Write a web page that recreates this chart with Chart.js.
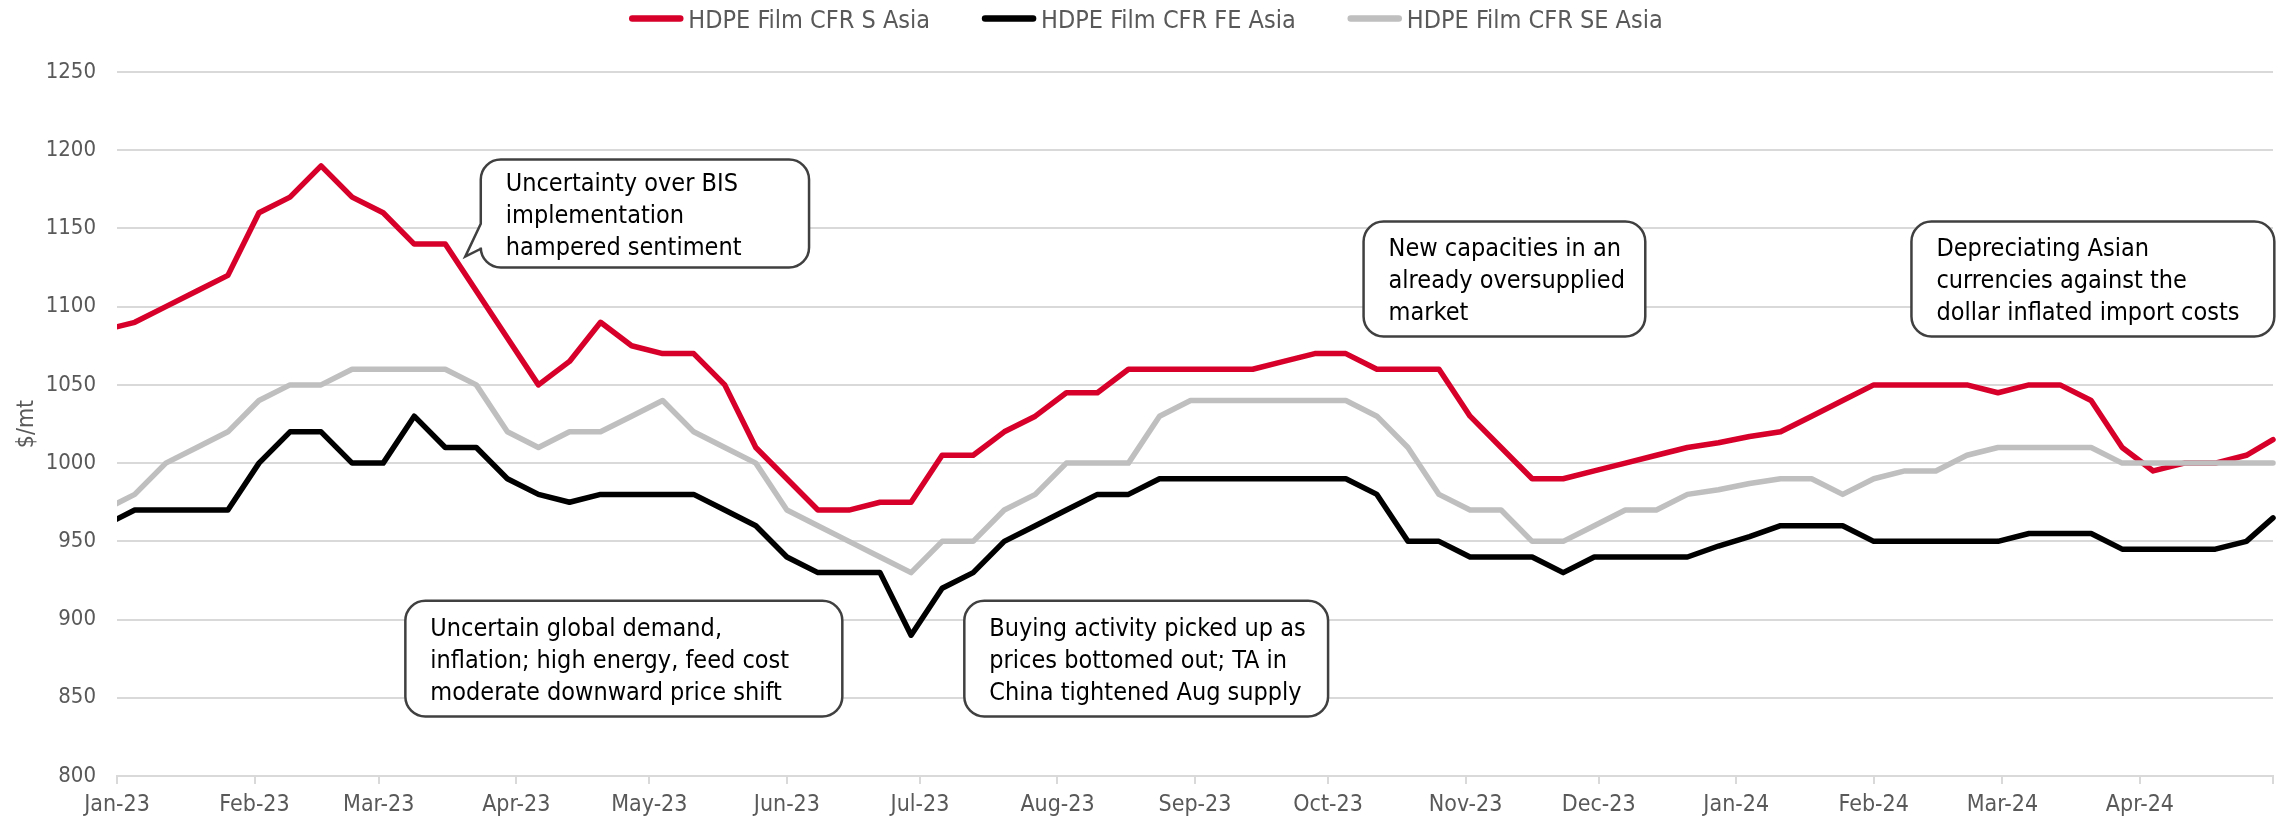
<!DOCTYPE html>
<html lang="en">
<head>
<meta charset="UTF-8">
<title>HDPE Film CFR Asia</title>
<script src="https://cdn.jsdelivr.net/npm/chart.js@4.4.1/dist/chart.umd.min.js"></script>
<style>
  html, body { margin: 0; padding: 0; background: #fff; }
</style>
</head>
<body>
<canvas id="chart" width="2282" height="818"></canvas>
<script>
// weekly assessments (first one sits just before the axis start and is clipped)
const weekDates = [
  '2022-12-29',
  '2023-01-05', '2023-01-12', '2023-01-19', '2023-01-26',
  '2023-02-02', '2023-02-09', '2023-02-16', '2023-02-23',
  '2023-03-02', '2023-03-09', '2023-03-16', '2023-03-23', '2023-03-30',
  '2023-04-06', '2023-04-13', '2023-04-20', '2023-04-27',
  '2023-05-04', '2023-05-11', '2023-05-18', '2023-05-25',
  '2023-06-01', '2023-06-08', '2023-06-15', '2023-06-22', '2023-06-29',
  '2023-07-06', '2023-07-13', '2023-07-20', '2023-07-27',
  '2023-08-03', '2023-08-10', '2023-08-17', '2023-08-24', '2023-08-31',
  '2023-09-07', '2023-09-14', '2023-09-21', '2023-09-28',
  '2023-10-05', '2023-10-12', '2023-10-19', '2023-10-26',
  '2023-11-02', '2023-11-09', '2023-11-16', '2023-11-23', '2023-11-30',
  '2023-12-07', '2023-12-14', '2023-12-21', '2023-12-28',
  '2024-01-04', '2024-01-11', '2024-01-18', '2024-01-25',
  '2024-02-01', '2024-02-08', '2024-02-15', '2024-02-22', '2024-02-29',
  '2024-03-07', '2024-03-14', '2024-03-21', '2024-03-28',
  '2024-04-04', '2024-04-11', '2024-04-18', '2024-04-25',
  '2024-05-01'
];

const sAsia = [1085,
  1090, 1100, 1110, 1120, 1160, 1170, 1190, 1170, 1160, 1140,
  1140, 1110, 1080, 1050, 1065, 1090, 1075, 1070, 1070, 1050,
  1010, 990, 970, 970, 975, 975, 1005, 1005, 1020, 1030,
  1045, 1045, 1060, 1060, 1060, 1060, 1060, 1065, 1070, 1070,
  1060, 1060, 1060, 1030, 1010, 990, 990, 995, 1000, 1005,
  1010, 1013, 1017, 1020, 1030, 1040, 1050, 1050, 1050, 1050,
  1045, 1050, 1050, 1040, 1010, 995, 1000, 1000, 1005,
  1015];

const feAsia = [960,
  970, 970, 970, 970, 1000, 1020, 1020, 1000, 1000, 1030,
  1010, 1010, 990, 980, 975, 980, 980, 980, 980, 970,
  960, 940, 930, 930, 930, 890, 920, 930, 950, 960,
  970, 980, 980, 990, 990, 990, 990, 990, 990, 990,
  980, 950, 950, 940, 940, 940, 930, 940, 940, 940,
  940, 947, 953, 960, 960, 960, 950, 950, 950, 950,
  950, 955, 955, 955, 945, 945, 945, 945, 950,
  965];

const seAsia = [970,
  980, 1000, 1010, 1020, 1040, 1050, 1050, 1060, 1060, 1060,
  1060, 1050, 1020, 1010, 1020, 1020, 1030, 1040, 1020, 1010,
  1000, 970, 960, 950, 940, 930, 950, 950, 970, 980,
  1000, 1000, 1000, 1030, 1040, 1040, 1040, 1040, 1040, 1040,
  1030, 1010, 980, 970, 970, 950, 950, 960, 970, 970,
  980, 983, 987, 990, 990, 980, 990, 995, 995, 1005,
  1010, 1010, 1010, 1010, 1000, 1000, 1000, 1000, 1000,
  1000];

const seriesNames = ['HDPE Film CFR S Asia', 'HDPE Film CFR FE Asia', 'HDPE Film CFR SE Asia'];
const seriesColors = ['#D6002A', '#000000', '#BFBFBF'];

const monthStarts = ['2023-01-01', '2023-02-01', '2023-03-01', '2023-04-01', '2023-05-01', '2023-06-01',
  '2023-07-01', '2023-08-01', '2023-09-01', '2023-10-01', '2023-11-01', '2023-12-01',
  '2024-01-01', '2024-02-01', '2024-03-01', '2024-04-01', '2024-05-01'];
const monthLabels = ['Jan-23', 'Feb-23', 'Mar-23', 'Apr-23', 'May-23', 'Jun-23',
  'Jul-23', 'Aug-23', 'Sep-23', 'Oct-23', 'Nov-23', 'Dec-23',
  'Jan-24', 'Feb-24', 'Mar-24', 'Apr-24', ''];

// callouts, placed in axis units (x = days since 1 Jan 2023, y = $/mt)
const notes = [
  { lines: ['Uncertainty over BIS', 'implementation', 'hampered sentiment'],
    x0: 82, x1: 156, top: 1194, bottom: 1125, tip: { x: 78.5, y: 1132, from: 1153, to: 1137 } },
  { lines: ['New capacities in an', 'already oversupplied', 'market'],
    x0: 281, x1: 344.5, top: 1154.5, bottom: 1081 },
  { lines: ['Depreciating Asian', 'currencies against the', 'dollar inflated import costs'],
    x0: 404.5, x1: 486.3, top: 1154.5, bottom: 1081 },
  { lines: ['Uncertain global demand,', 'inflation; high energy, feed cost', 'moderate downward price shift'],
    x0: 65, x1: 163.5, top: 912, bottom: 838 },
  { lines: ['Buying activity picked up as', 'prices bottomed out; TA in', 'China tightened Aug supply'],
    x0: 191, x1: 273, top: 912, bottom: 838 }
];

const FONT = '"DejaVu Sans Condensed", "Liberation Sans Narrow", sans-serif';
Chart.defaults.font.family = FONT;

const DAY0 = Date.UTC(2023, 0, 1);
function dayNo(s) {
  const [y, m, d] = s.split('-').map(Number);
  return (Date.UTC(y, m - 1, d) - DAY0) / 86400000;
}
const xs = weekDates.map(dayNo);
const tickDays = monthStarts.map(dayNo);
const toPoints = vals => vals.map((v, i) => ({ x: xs[i], y: v }));

// legend: short thick line + grey text, centred above the plot
const lineLegend = {
  id: 'lineLegend',
  afterDraw(chart) {
    const ctx = chart.ctx;
    ctx.save();
    ctx.font = '25px ' + FONT;
    const lineLen = 54, gap = 5, spacing = 52, y = 18.5;
    const items = chart.data.datasets.map(d => ({ text: d.label, color: d.borderColor, w: ctx.measureText(d.label).width }));
    const total = items.reduce((s, it) => s + lineLen + gap + it.w, 0) + spacing * (items.length - 1);
    let x = chart.width / 2 + 5 - total / 2;
    items.forEach(it => {
      ctx.strokeStyle = it.color;
      ctx.lineWidth = 6.5;
      ctx.lineCap = 'round';
      ctx.beginPath();
      ctx.moveTo(x + 3, y);
      ctx.lineTo(x + lineLen - 3, y);
      ctx.stroke();
      ctx.fillStyle = '#595959';
      ctx.textBaseline = 'alphabetic';
      ctx.textAlign = 'left';
      ctx.fillText(it.text, x + lineLen + gap, y + 9.5);
      x += lineLen + gap + it.w + spacing;
    });
    ctx.restore();
  }
};

const callouts = {
  id: 'callouts',
  afterDatasetsDraw(chart) {
    const { ctx, scales: { x, y } } = chart;
    ctx.save();
    notes.forEach(n => {
      const l = x.getPixelForValue(n.x0), r = x.getPixelForValue(n.x1);
      const t = y.getPixelForValue(n.top), b = y.getPixelForValue(n.bottom);
      const rad = 20;
      ctx.beginPath();
      ctx.moveTo(l + rad, t);
      ctx.arcTo(r, t, r, b, rad);
      ctx.arcTo(r, b, l, b, rad);
      ctx.arcTo(l, b, l, t, rad);
      if (n.tip) {
        ctx.lineTo(l, y.getPixelForValue(n.tip.to));
        ctx.lineTo(x.getPixelForValue(n.tip.x), y.getPixelForValue(n.tip.y));
        ctx.lineTo(l, y.getPixelForValue(n.tip.from));
      }
      ctx.arcTo(l, t, r, t, rad);
      ctx.closePath();
      ctx.fillStyle = '#ffffff';
      ctx.fill();
      ctx.lineWidth = 2.5;
      ctx.strokeStyle = '#404040';
      ctx.stroke();

      ctx.fillStyle = '#000000';
      ctx.font = '25px ' + FONT;
      ctx.textBaseline = 'alphabetic';
      ctx.textAlign = 'left';
      const cy = (t + b) / 2, lh = 32;
      n.lines.forEach((s, i) => {
        ctx.fillText(s, l + 25, cy + (i - (n.lines.length - 1) / 2) * lh + 9);
      });
    });
    ctx.restore();
  }
};

new Chart(document.getElementById('chart'), {
  type: 'line',
  data: {
    datasets: [
      { label: seriesNames[0], data: toPoints(sAsia), borderColor: seriesColors[0], backgroundColor: seriesColors[0], order: 3 },
      { label: seriesNames[1], data: toPoints(feAsia), borderColor: seriesColors[1], backgroundColor: seriesColors[1], order: 2 },
      { label: seriesNames[2], data: toPoints(seAsia), borderColor: seriesColors[2], backgroundColor: seriesColors[2], order: 1 }
    ]
  },
  options: {
    responsive: false,
    animation: false,
    devicePixelRatio: 1,
    layout: { padding: { top: 72, right: 9, left: 0, bottom: 0 } },
    elements: {
      line: { borderWidth: 5.5, tension: 0, borderJoinStyle: 'round', borderCapStyle: 'round', fill: false },
      point: { radius: 0, hoverRadius: 0 }
    },
    datasets: { line: { clip: { left: 0, right: 4, top: 4, bottom: 4 } } },
    plugins: {
      legend: { display: false },
      tooltip: { enabled: false }
    },
    scales: {
      x: {
        type: 'linear',
        min: 0,
        max: 486,
        afterBuildTicks: s => { s.ticks = tickDays.map(v => ({ value: v })); },
        afterFit: s => { s.height = 42; },
        ticks: {
          autoSkip: false,
          maxRotation: 0,
          padding: 7,
          color: '#595959',
          font: { size: 23 },
          callback: v => { const i = tickDays.indexOf(v); return i < 0 ? '' : monthLabels[i]; }
        },
        grid: { drawOnChartArea: false, drawTicks: true, tickLength: 8, color: '#D9D9D9', lineWidth: 2 },
        border: { display: true, color: '#D9D9D9', width: 2 }
      },
      y: {
        min: 800,
        max: 1250,
        afterFit: s => { s.width = 117; },
        ticks: { stepSize: 50, padding: 21, color: '#595959', font: { size: 22 }, callback: v => String(v) },
        grid: { color: '#D9D9D9', lineWidth: 2, drawTicks: false },
        border: { display: false },
        title: { display: true, text: '$/mt', color: '#595959', font: { size: 23 }, padding: { top: 13, bottom: 0 } }
      }
    }
  },
  plugins: [lineLegend, callouts]
});
</script>
</body>
</html>
